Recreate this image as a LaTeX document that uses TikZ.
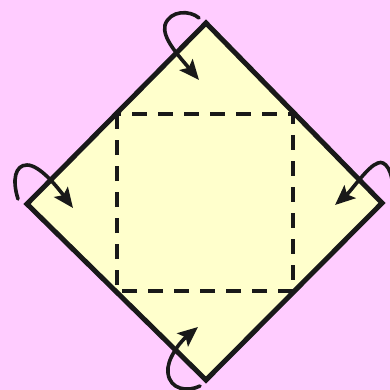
\documentclass[tikz,border=0pt]{standalone}
\usetikzlibrary{arrows.meta}
\definecolor{bgpink}{HTML}{FFCCFF}
\definecolor{paper}{HTML}{FFFFCC}
\tikzset{
  paperedge/.style={line width=5pt, draw=black!90, line join=miter},
  foldline/.style={line width=3.6pt, draw=black!90, dash pattern=on 15pt off 11pt, dash phase=11pt},
  foldarrow/.style={line width=3.6pt, draw=black!90, line cap=round,
    -{Stealth[length=20pt,width=17pt,inset=4pt]}}
}
\begin{document}
\begin{tikzpicture}[x=1pt,y=-1pt]
  \clip (0,0) rectangle (390,390);
  \fill[bgpink] (0,0) rectangle (390,390);
  \useasboundingbox (0,0) rectangle (390,390);
  % diamond corners
  \coordinate (T) at (206,23);
  \coordinate (R) at (382,203);
  \coordinate (B) at (206,380);
  \coordinate (L) at (27,204);
  \fill[paper] (T) -- (R) -- (B) -- (L) -- cycle;
  % inner dashed square (edge midpoints)
  \draw[foldline] (117,114) -- (293,114) -- (293,291) -- (117,291) -- cycle;
  \draw[paperedge] (T) -- (R) -- (B) -- (L) -- cycle;
  % arrows
  \draw[foldarrow] (199,18) .. controls (190,10) and (170,10) .. (165,25)
        .. controls (162,38) and (178,55) .. (199,80);
  \draw[foldarrow] (18,199) .. controls (12,180) and (15,165) .. (27,165)
        .. controls (40,165) and (58,188) .. (73,208);
  \draw[foldarrow] (393,192) .. controls (393,170) and (385,160) .. (378,163)
        .. controls (368,166) and (352,190) .. (335,205);
  \draw[foldarrow] (200,386) .. controls (188,392) and (170,390) .. (168,373)
        .. controls (166,360) and (180,342) .. (198,327);
\end{tikzpicture}
\end{document}
